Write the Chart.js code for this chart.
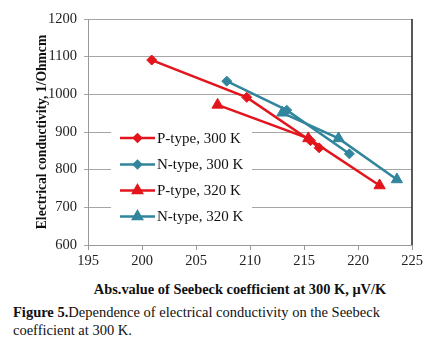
<!DOCTYPE html>
<html lang="en">
<head>
<meta charset="UTF-8">
<script src="https://cdn.jsdelivr.net/npm/chart.js"></script>
<title>Figure 5</title>
<style>
  body { margin: 0; background: #fff; }
  #wrap { position: relative; width: 435px; height: 349px; }
  #box { position: absolute; left: 0; top: 0; width: 435px; height: 281px; }
  #xtitulo {
    position: absolute; left: 40px; width: 400px; top: 281px; text-align: center;
    font-family: "Liberation Serif", serif; font-size: 14.4px; font-weight: bold; color: #111;
  }
  #caption {
    position: absolute; left: 13px; top: 303px; width: 420px;
    font-family: "Liberation Serif", serif; font-size: 14.5px; line-height: 18px; color: #111;
  }
</style>
</head>
<body>
<div id="wrap">
  <div id="box"><canvas id="grafico"></canvas></div>
  <div id="xtitulo">Abs.value of Seebeck coefficient at 300 K, &mu;V/K</div>
  <div id="caption"><b>Figure 5.</b>Dependence of electrical conductivity on the Seebeck coefficient at 300 K.</div>
</div>

<script>
  // valores
  const seriesNames = ["P-type, 300 K", "N-type, 300 K", "P-type, 320 K", "N-type, 320 K"];

  const pType300X = [200.9, 209.7, 215.6, 216.4];
  const pType300Y = [1091, 992, 877, 858];

  const nType300X = [207.85, 213.4, 219.2];
  const nType300Y = [1035, 958, 842];

  const pType320X = [207.0, 215.4, 222.0];
  const pType320Y = [972, 883, 758];

  const nType320X = [213.0, 218.2, 223.6];
  const nType320Y = [951, 883, 774];

  const xTicks = [195, 200, 205, 210, 215, 220, 225];
  const yTicks = [600, 700, 800, 900, 1000, 1100, 1200];

  const vermelho = "#e3151c";
  const azul = "#31859c";
  const serif = "'Liberation Serif', 'Times New Roman', serif";

  Chart.defaults.font.family = serif;

  function pontos(xs, ys) {
    return xs.map((x, i) => ({ x: x, y: ys[i] }));
  }

  function serie(label, xs, ys, cor, estilo, raio) {
    return {
      label: label,
      data: pontos(xs, ys),
      borderColor: cor,
      backgroundColor: cor,
      borderWidth: 2.5,
      pointStyle: estilo,
      pointRadius: raio,
      pointHoverRadius: raio,
      pointBorderWidth: 1,
      showLine: true,
      tension: 0
    };
  }

  const dados = {
    datasets: [
      serie(seriesNames[0], pType300X, pType300Y, vermelho, "rectRot", 5),
      serie(seriesNames[1], nType300X, nType300Y, azul, "rectRot", 5),
      serie(seriesNames[2], pType320X, pType320Y, vermelho, "triangle", 6.5),
      serie(seriesNames[3], nType320X, nType320Y, azul, "triangle", 6.5)
    ]
  };

  // legenda desenhada dentro da area do grafico + borda direita escura
  const legendaInterna = {
    id: "legendaInterna",
    afterDraw(chart) {
      const ctx = chart.ctx;
      const area = chart.chartArea;
      ctx.save();
      ctx.strokeStyle = "#222";
      ctx.lineWidth = 1.5;
      ctx.beginPath();
      ctx.moveTo(area.right, area.top);
      ctx.lineTo(area.right, area.bottom);
      ctx.stroke();

      ctx.fillStyle = "#fff";
      ctx.fillRect(111, 125, 141, 103);

      const yItens = [138, 164.5, 190.5, 216.5];
      ctx.font = "15px " + serif;
      ctx.textBaseline = "middle";
      chart.data.datasets.forEach((ds, i) => {
        const y = yItens[i];
        ctx.strokeStyle = ds.borderColor;
        ctx.lineWidth = 2.5;
        ctx.beginPath();
        ctx.moveTo(120, y);
        ctx.lineTo(155, y);
        ctx.stroke();
        ctx.fillStyle = ds.borderColor;
        const r = ds.pointStyle === "triangle" ? 5 : 3.5;
        Chart.helpers.drawPoint(ctx, { pointStyle: ds.pointStyle, radius: r, borderWidth: 1 }, 137.5, y);
        ctx.fill();
        ctx.fillStyle = "#111";
        ctx.fillText(ds.label, 157, y + 1);
      });
      ctx.restore();
    }
  };

  const config = {
    type: "scatter",
    data: dados,
    options: {
      responsive: true,
      maintainAspectRatio: false,
      animation: false,
      layout: { padding: { left: 0, right: 23, top: 19, bottom: 0 } },
      plugins: {
        legend: { display: false },
        tooltip: { enabled: false }
      },
      scales: {
        x: {
          type: "linear",
          min: 195,
          max: 225,
          afterBuildTicks: (scale) => { scale.ticks = xTicks.map(v => ({ value: v })); },
          afterFit: (scale) => { scale.height = 36; },
          ticks: {
            font: { family: serif, size: 14.5 },
            color: "#222",
            padding: 2,
            callback: (v) => String(v)
          },
          grid: {
            drawOnChartArea: false,
            drawTicks: true,
            tickLength: 5,
            color: "#999"
          },
          border: { color: "#999", width: 1 }
        },
        y: {
          min: 600,
          max: 1200,
          afterBuildTicks: (scale) => { scale.ticks = yTicks.map(v => ({ value: v })); },
          afterFit: (scale) => { scale.width = 88; },
          ticks: {
            font: { family: serif, size: 14.5 },
            color: "#222",
            padding: 7,
            callback: (v) => String(v)
          },
          grid: {
            color: "#a6a6a6",
            lineWidth: 1,
            drawTicks: true,
            tickLength: 4
          },
          border: { color: "#999", width: 1 },
          title: {
            display: true,
            text: "Electrical conductivity, 1/Ohmcm",
            font: { family: serif, size: 13.6, weight: "bold" },
            color: "#111",
            padding: { top: 34, bottom: 0 }
          }
        }
      }
    },
    plugins: [legendaInterna]
  };

  let grafico = new Chart(document.getElementById("grafico"), config);
</script>
</body>
</html>
